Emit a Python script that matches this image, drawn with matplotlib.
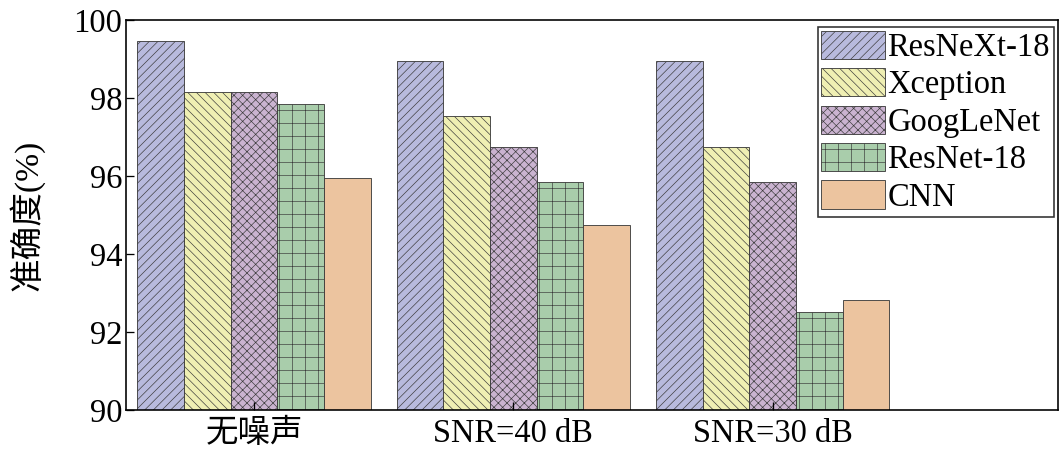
import numpy as np
import matplotlib
matplotlib.use("Agg")
import matplotlib.pyplot as plt

plt.rcParams['font.family'] = ['Liberation Serif', 'Noto Sans CJK SC']
plt.rcParams['hatch.linewidth'] = 0.6

groups = ['无噪声', 'SNR=40 dB', 'SNR=30 dB']
models = ['ResNeXt-18', 'Xception', 'GoogLeNet', 'ResNet-18', 'CNN']
resnext = [99.46, 98.95, 98.95]
xception = [98.15, 97.54, 96.74]
googlenet = [98.15, 96.74, 95.85]
resnet = [97.85, 95.85, 92.51]
cnn = [95.95, 94.74, 92.82]

colors = ['#b8badd', '#efefb3', '#cab3d0', '#a9cdab', '#ecc49f']
hatches = ['///', '\\\\\\', 'xxx', '+', '']

dpi = 78
fig = plt.figure(figsize=(1064 / dpi, 459 / dpi), dpi=dpi)
ax = fig.add_axes([126 / 1064, 1 - 410 / 459, 932 / 1064, 390 / 459])

x = np.arange(len(groups))
w = 0.18
series = [resnext, xception, googlenet, resnet, cnn]
for i, vals in enumerate(series):
    ax.bar(x + (i - 2) * w, vals, w, color=colors[i], edgecolor='#3a3a3a',
           linewidth=0.8, hatch=hatches[i], label=models[i])

ax.set_ylim(90, 100)
ax.set_xlim(-0.494, 3.10)
ax.set_yticks(np.arange(90, 101, 2))
ax.set_xticks(x)
ax.set_xticklabels(groups)
ax.tick_params(axis='both', direction='in', labelsize=30, length=7, width=1.2)
ax.tick_params(axis='x', pad=8)
ax.set_ylabel('准确度(%)', fontsize=31)
ax.yaxis.set_label_coords(-0.088, 0.5)
for s in ax.spines.values():
    s.set_linewidth(1.5)

leg = ax.legend(loc='upper right', bbox_to_anchor=(0.9955, 0.982), fontsize=30,
                frameon=True, fancybox=False, edgecolor='black',
                handlelength=1.95, handleheight=0.95, labelspacing=0.16,
                handletextpad=0.08, borderpad=0.12, borderaxespad=0)
leg.get_frame().set_linewidth(1.5)

fig.savefig('out.png', dpi=dpi)
